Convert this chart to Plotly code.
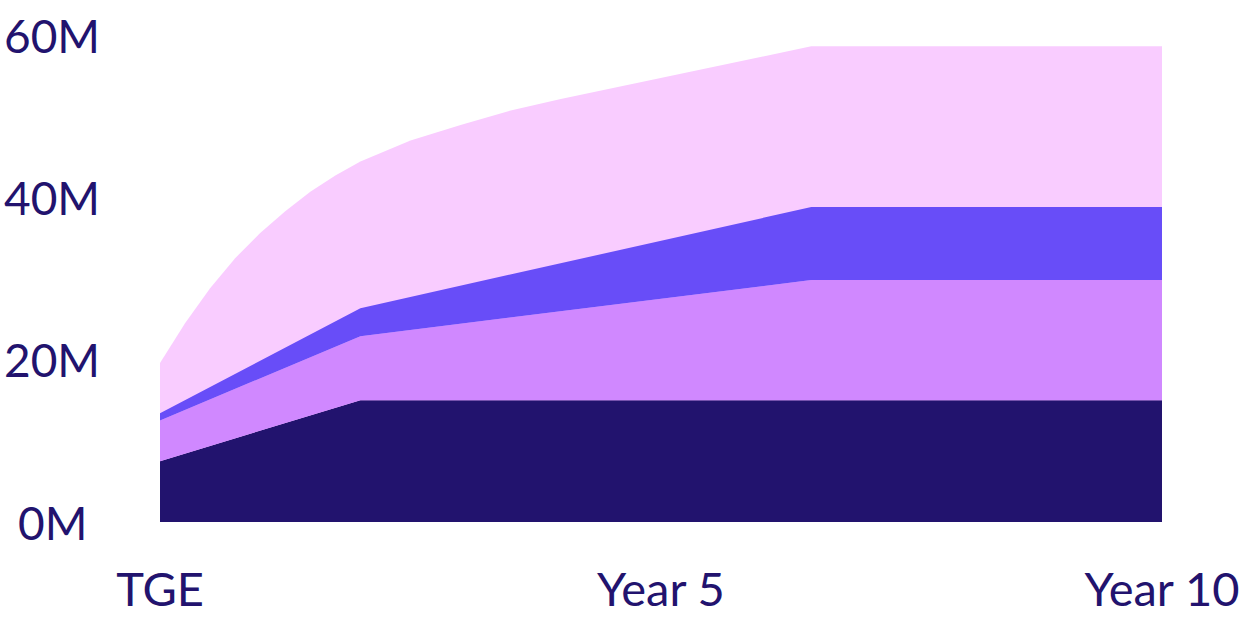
import plotly.graph_objects as go

# ---- data (values in millions, x in years since TGE) ----
total_years = [0, 0.25, 0.5, 0.75, 1, 1.25, 1.5, 1.75, 2, 2.5, 3, 3.5, 4, 4.5, 5, 5.5, 6, 6.5, 10]
total_supply = [19.6, 24.5, 28.8, 32.5, 35.6, 38.3, 40.7, 42.7, 44.4, 47.0, 48.9, 50.7, 52.1, 53.4, 54.7, 56.0, 57.3, 58.6, 58.6]

dark_years = [0, 2, 10]
dark_values = [7.5, 15.0, 15.0]

lilac_years = [0, 2, 6.5, 10]
lilac_values = [5.0, 7.9, 14.8, 14.8]

violet_years = [0, 2, 6.5, 10]
violet_values = [0.9, 3.45, 9.0, 9.0]

x_tickvals = [0, 5, 10]
x_ticktext = ["TGE", "Year 5", "Year 10"]
y_tickvals = [0, 20, 40, 60]
y_ticktext = ["0M", "20M", "40M", "60M"]

TEXT = "#22136E"
FONT = "Lato"

fig = go.Figure()

fig.add_trace(go.Scatter(
    x=total_years, y=total_supply, mode="lines", fill="tozeroy",
    fillcolor="#F9CCFF", line=dict(width=0, color="#F9CCFF"),
    hoverinfo="skip", showlegend=False))

fig.add_trace(go.Scatter(
    x=dark_years, y=dark_values, mode="lines", stackgroup="s", stackgaps="interpolate",
    fill="tozeroy", fillcolor="#22136E", line=dict(width=0, color="#22136E"),
    showlegend=False))
fig.add_trace(go.Scatter(
    x=lilac_years, y=lilac_values, mode="lines", stackgroup="s",
    fill="tonexty", fillcolor="#D088FF", line=dict(width=0, color="#D088FF"),
    showlegend=False))
fig.add_trace(go.Scatter(
    x=violet_years, y=violet_values, mode="lines", stackgroup="s",
    fill="tonexty", fillcolor="#684DF8", line=dict(width=0, color="#684DF8"),
    showlegend=False))

annotations = []
for v, t in zip(y_tickvals, y_ticktext):
    annotations.append(dict(
        x=-0.1073, xref="paper", y=v, yref="y", text=t, showarrow=False,
        xanchor="center", yanchor="middle",
        font=dict(family=FONT, size=46, color=TEXT)))

fig.update_layout(
    width=1247, height=617,
    margin=dict(l=160, r=85, t=35, b=95),
    paper_bgcolor="white", plot_bgcolor="white",
    annotations=annotations,
    xaxis=dict(range=[0, 10], tickvals=x_tickvals, ticktext=x_ticktext,
               showgrid=False, zeroline=False, showline=False, ticks="",
               ticklabelstandoff=36, automargin=False,
               tickfont=dict(family=FONT, size=47, color=TEXT)),
    yaxis=dict(range=[0, 60], tickvals=y_tickvals, showticklabels=False,
               showgrid=False, zeroline=False, showline=False, ticks="",
               automargin=False),
)

fig.write_html("out.html", config={"displayModeBar": False},
               post_script="document.body.style.margin='0';")
